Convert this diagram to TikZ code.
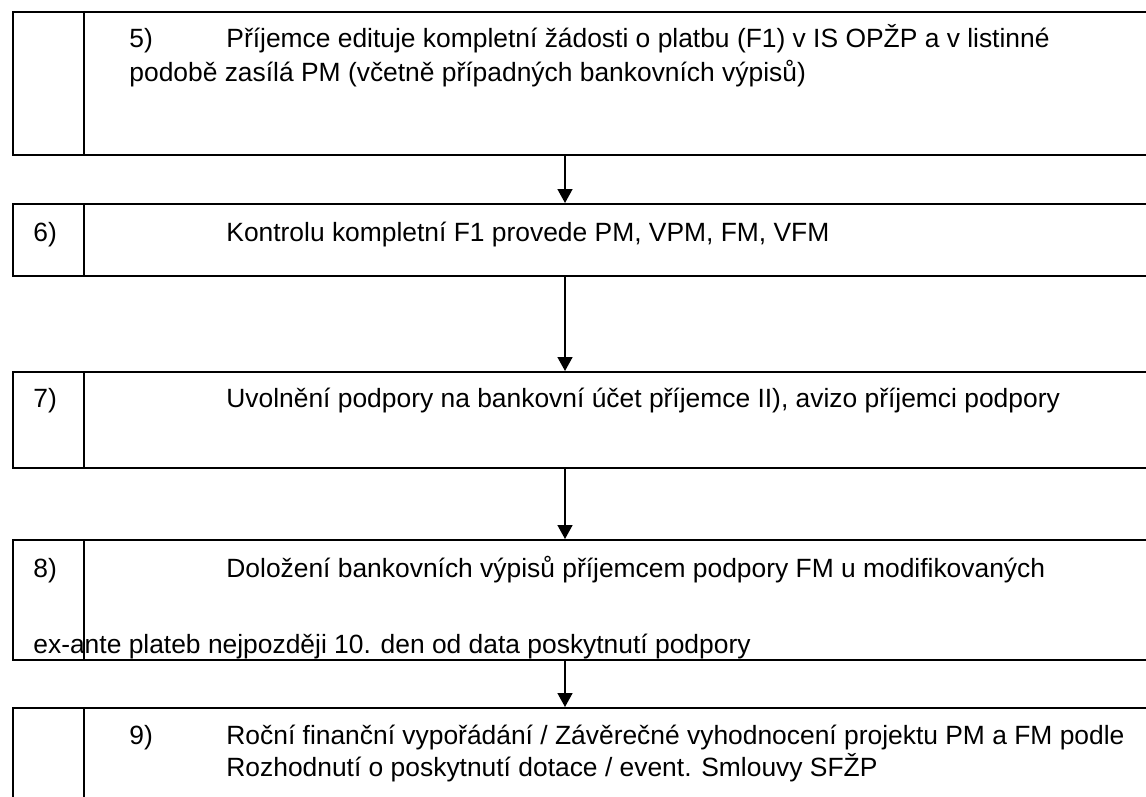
\documentclass[tikz,border=0pt]{standalone}
\usepackage{fontspec}
\setmainfont{Liberation Sans}
\usetikzlibrary{arrows.meta}
\begin{document}
\begin{tikzpicture}[x=0.5pt, y=-0.5pt,
    box/.style={draw, line width=1pt, anchor=north west, minimum width=574pt, inner sep=0pt},
    txt/.style={anchor=base west, inner sep=0pt, font=\fontsize{13.2}{16}\selectfont},
    flow/.style={-{Triangle[width=7.5pt,length=7pt]}, line width=0.8pt}]
    \useasboundingbox (0,0) rectangle (1146,797);
    \clip (0,0) rectangle (1146,797);
    \coordinate (dx) at (84,0);
    \coordinate (ax) at (565,0);
    \node[box, minimum height=71.5pt] (box5) at (12,11)  {};
    \node[box, minimum height=36pt]   (box6) at (12,203) {};
    \node[box, minimum height=48pt]   (box7) at (12,371) {};
    \node[box, minimum height=60pt]   (box8) at (12,539) {};
    \node[box, minimum height=60pt]   (box9) at (12,707) {};
    \foreach \b in {5,...,9}
      \draw[line width=1pt] (box\b.north west -| dx) -- (box\b.south west -| dx);
    \foreach \a/\b in {5/6,6/7,7/8,8/9}
      \draw[flow] (box\a.south west -| ax) -- (box\b.north west -| ax);
    % step texts
    \node[txt] (n5) at (129,48)  {5)};
    \node[txt] (t5) at (226,48)  {Příjemce edituje kompletní žádosti o platbu (F1) v IS OPŽP a v listinné};
    \node[txt] (u5) at (129,82)  {podobě zasílá PM (včetně případných bankovních výpisů)};
    \node[txt] (n6) at (33,241)  {6)};
    \node[txt] (t6) at (226,241) {Kontrolu kompletní F1 provede PM, VPM, FM, VFM};
    \node[txt] (n7) at (33,407)  {7)};
    \node[txt] (t7) at (226,407) {Uvolnění podpory na bankovní účet příjemce II), avizo příjemci podpory};
    \node[txt] (n8) at (33,577)  {8)};
    \node[txt] (t8) at (226,577) {Doložení bankovních výpisů příjemcem podpory FM u modifikovaných};
    \node[txt] (u8) at (33,653)  {ex-ante plateb nejpozději 10. den od data poskytnutí podpory};
    \node[txt] (n9) at (129,744) {9)};
    \node[txt] (t9) at (226,744) {Roční finanční vypořádání / Závěrečné vyhodnocení projektu PM a FM podle};
    \node[txt] (u9) at (226,776) {Rozhodnutí o poskytnutí dotace / event. Smlouvy SFŽP};
\end{tikzpicture}
\end{document}
